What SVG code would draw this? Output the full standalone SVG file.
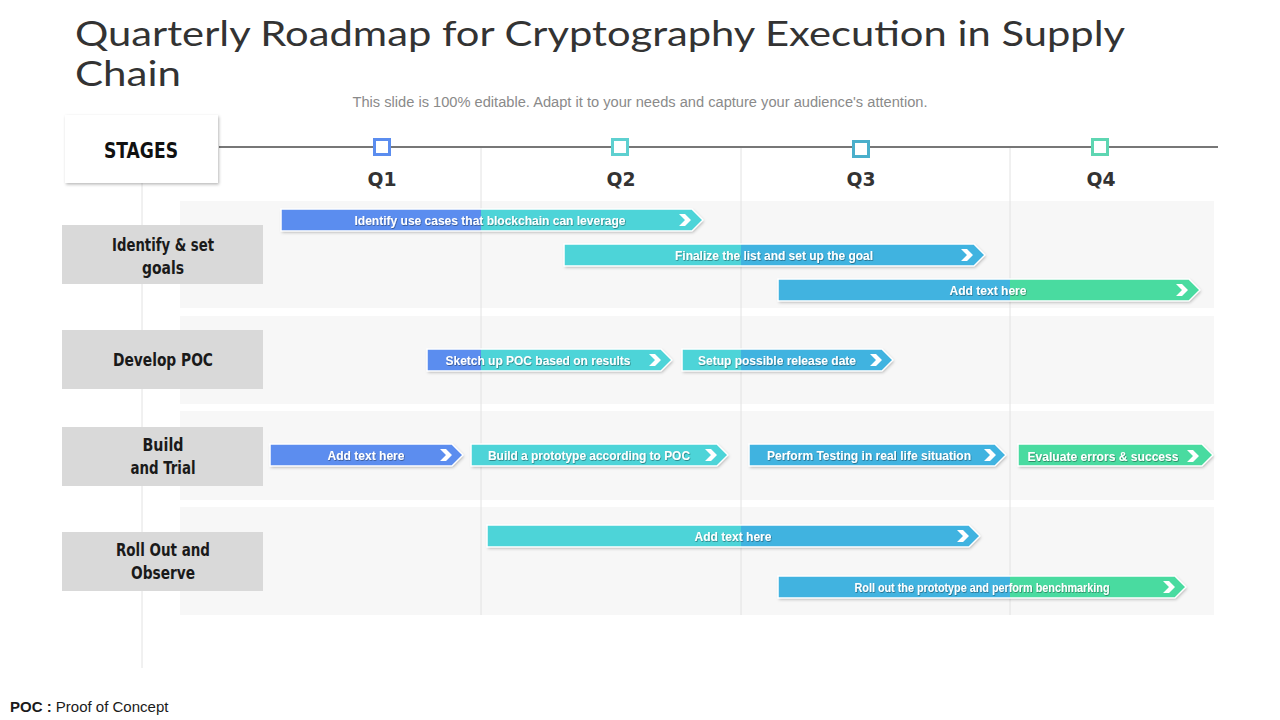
<svg xmlns="http://www.w3.org/2000/svg" width="1280" height="720" viewBox="0 0 1280 720">
<defs>
<style>
.title{font-family:Lato,"Open Sans","Liberation Sans",sans-serif;font-weight:400;font-size:35px;fill:#333333}
.sub{font-family:"Liberation Sans",Arial,sans-serif;font-size:14px;fill:#8a8a8a}
.stage{font-family:"DejaVu Sans Condensed","Liberation Sans",sans-serif;font-weight:bold;font-size:17px;fill:#1a1a1a}
.q{font-family:"DejaVu Sans","Liberation Sans",sans-serif;font-weight:bold;font-size:20px;fill:#333333}
.bt{font-family:"Liberation Sans",Arial,sans-serif;font-weight:bold;font-size:12px;fill:#ffffff}
.grid{stroke:#e2e2e2;stroke-width:1}
.panel{fill:#f7f7f7}
.sbox{fill:#d9d9d9}
.outline{fill:none;stroke:#ffffff;stroke-width:1.5}
.chev{fill:#ffffff}
.foot{font-family:"Liberation Sans",Arial,sans-serif;font-size:15px;fill:#1a1a1a}
</style>
<filter id="sh" x="-10%" y="-40%" width="120%" height="200%">
<feDropShadow dx="1" dy="1.5" stdDeviation="1.5" flood-color="#000" flood-opacity="0.28"/>
</filter>
<filter id="tsh" x="-5%" y="-30%" width="110%" height="160%">
<feDropShadow dx="0.6" dy="0.8" stdDeviation="0.4" flood-color="#000" flood-opacity="0.45"/>
</filter>
</defs>
<rect width="1280" height="720" fill="#ffffff"/>

<text class="title" x="75" y="46" textLength="1050" lengthAdjust="spacingAndGlyphs">Quarterly Roadmap for Cryptography  Execution in Supply</text>
<text class="title" x="75" y="86" textLength="106" lengthAdjust="spacingAndGlyphs">Chain</text>
<text class="sub" x="640" y="107" text-anchor="middle" textLength="575" lengthAdjust="spacingAndGlyphs">This slide is 100% editable. Adapt it to your needs and capture your audience's attention.</text>

<g id="background">
<rect class="panel" x="180" y="201" width="1034" height="107"/>
<rect class="panel" x="180" y="316" width="1034" height="88"/>
<rect class="panel" x="180" y="411" width="1034" height="89"/>
<rect class="panel" x="180" y="507" width="1034" height="108"/>
<line class="grid" x1="142" y1="183" x2="142" y2="668"/>
<line class="grid" x1="481" y1="147" x2="481" y2="615"/>
<line class="grid" x1="741" y1="147" x2="741" y2="615"/>
<line class="grid" x1="1010" y1="147" x2="1010" y2="615"/>
</g>

<g id="timeline">
<line x1="219" y1="147" x2="1218" y2="147" stroke="#777777" stroke-width="2"/>
<rect x="374.5" y="139.5" width="15" height="15" fill="#ffffff" stroke="#5B8DEF" stroke-width="3"/>
<rect x="612.5" y="139.5" width="15" height="15" fill="#ffffff" stroke="#5ED0D0" stroke-width="3"/>
<rect x="853.5" y="141.5" width="15" height="15" fill="#ffffff" stroke="#4AAFCB" stroke-width="3"/>
<rect x="1092.5" y="139.5" width="15" height="15" fill="#ffffff" stroke="#5ED6B2" stroke-width="3"/>
<text class="q" x="382" y="186" text-anchor="middle" textLength="29" lengthAdjust="spacingAndGlyphs">Q1</text>
<text class="q" x="621" y="186" text-anchor="middle" textLength="29" lengthAdjust="spacingAndGlyphs">Q2</text>
<text class="q" x="861" y="186" text-anchor="middle" textLength="29" lengthAdjust="spacingAndGlyphs">Q3</text>
<text class="q" x="1101" y="186" text-anchor="middle" textLength="29" lengthAdjust="spacingAndGlyphs">Q4</text>
</g>

<g id="stages-header">
<rect x="65" y="115" width="153" height="68" fill="#ffffff" filter="url(#sh)"/>
<text x="141" y="158" text-anchor="middle" textLength="74" lengthAdjust="spacingAndGlyphs" style="font-family:'DejaVu Sans Condensed','Liberation Sans',sans-serif;font-weight:bold;font-size:22px;fill:#111">STAGES</text>
</g>

<g id="stage-1">
<rect class="sbox" x="62" y="225" width="201" height="59"/>
<text class="stage" x="163" y="251" text-anchor="middle" textLength="102" lengthAdjust="spacingAndGlyphs">Identify &amp; set</text>
<text class="stage" x="163" y="274" text-anchor="middle" textLength="42" lengthAdjust="spacingAndGlyphs">goals</text>
</g>
<g id="stage-2">
<rect class="sbox" x="62" y="330" width="201" height="59"/>
<text class="stage" x="163" y="366" text-anchor="middle" textLength="100" lengthAdjust="spacingAndGlyphs">Develop POC</text>
</g>
<g id="stage-3">
<rect class="sbox" x="62" y="427" width="201" height="59"/>
<text class="stage" x="163" y="451" text-anchor="middle" textLength="41" lengthAdjust="spacingAndGlyphs">Build</text>
<text class="stage" x="163" y="474" text-anchor="middle" textLength="65" lengthAdjust="spacingAndGlyphs">and Trial</text>
</g>
<g id="stage-4">
<rect class="sbox" x="62" y="532" width="201" height="59"/>
<text class="stage" x="163" y="556" text-anchor="middle" textLength="94" lengthAdjust="spacingAndGlyphs">Roll Out and</text>
<text class="stage" x="163" y="579" text-anchor="middle" textLength="64" lengthAdjust="spacingAndGlyphs">Observe</text>
</g>

<g id="bar-1">
<polygon points="281,209 692,209 703,220 692,231 281,231" fill="#4DD4D8" filter="url(#sh)"/>
<rect x="281" y="209" width="200" height="22" fill="#5B8DEF"/>
<polygon class="outline" points="281,209 692,209 703,220 692,231 281,231"/>
<polygon class="chev" points="679,214 685,214 691,220 685,226 679,226 685,220"/>
<text class="bt" x="490" y="224.5" text-anchor="middle" textLength="271" lengthAdjust="spacingAndGlyphs" filter="url(#tsh)">Identify  use cases that blockchain can leverage</text>
</g>
<g id="bar-2">
<polygon points="564,244 974,244 985,255 974,266 564,266" fill="#41B3E0" filter="url(#sh)"/>
<rect x="564" y="244" width="177" height="22" fill="#4DD4D8"/>
<polygon class="outline" points="564,244 974,244 985,255 974,266 564,266"/>
<polygon class="chev" points="961,249 967,249 973,255 967,261 961,261 967,255"/>
<text class="bt" x="774" y="259.5" text-anchor="middle" textLength="198" lengthAdjust="spacingAndGlyphs" filter="url(#tsh)">Finalize  the list and set up the goal</text>
</g>
<g id="bar-3">
<polygon points="778,279 1189,279 1200,290 1189,301 778,301" fill="#48DBA0" filter="url(#sh)"/>
<rect x="778" y="279" width="232" height="22" fill="#41B3E0"/>
<polygon class="outline" points="778,279 1189,279 1200,290 1189,301 778,301"/>
<polygon class="chev" points="1176,284 1182,284 1188,290 1182,296 1176,296 1182,290"/>
<text class="bt" x="988" y="294.5" text-anchor="middle" textLength="77" lengthAdjust="spacingAndGlyphs" filter="url(#tsh)">Add  text here</text>
</g>
<g id="bar-4">
<polygon points="427,349 661,349 672,360 661,371 427,371" fill="#4DD4D8" filter="url(#sh)"/>
<rect x="427" y="349" width="54" height="22" fill="#5B8DEF"/>
<polygon class="outline" points="427,349 661,349 672,360 661,371 427,371"/>
<polygon class="chev" points="649,354 655,354 661,360 655,366 649,366 655,360"/>
<text class="bt" x="538" y="364.5" text-anchor="middle" textLength="185" lengthAdjust="spacingAndGlyphs" filter="url(#tsh)">Sketch up POC based on results</text>
</g>
<g id="bar-5">
<polygon points="682,349 882,349 893,360 882,371 682,371" fill="#41B3E0" filter="url(#sh)"/>
<rect x="682" y="349" width="59" height="22" fill="#4DD4D8"/>
<polygon class="outline" points="682,349 882,349 893,360 882,371 682,371"/>
<polygon class="chev" points="870,354 876,354 882,360 876,366 870,366 876,360"/>
<text class="bt" x="777" y="364.5" text-anchor="middle" textLength="158" lengthAdjust="spacingAndGlyphs" filter="url(#tsh)">Setup possible release date</text>
</g>
<g id="bar-6">
<polygon points="270,444 452,444 463,455 452,466 270,466" fill="#5B8DEF" filter="url(#sh)"/>
<polygon class="outline" points="270,444 452,444 463,455 452,466 270,466"/>
<polygon class="chev" points="440,449 446,449 452,455 446,461 440,461 446,455"/>
<text class="bt" x="366" y="459.5" text-anchor="middle" textLength="77" lengthAdjust="spacingAndGlyphs" filter="url(#tsh)">Add  text here</text>
</g>
<g id="bar-7">
<polygon points="471,444 717,444 728,455 717,466 471,466" fill="#4DD4D8" filter="url(#sh)"/>
<polygon class="outline" points="471,444 717,444 728,455 717,466 471,466"/>
<polygon class="chev" points="705,449 711,449 717,455 711,461 705,461 711,455"/>
<text class="bt" x="589" y="459.5" text-anchor="middle" textLength="202" lengthAdjust="spacingAndGlyphs" filter="url(#tsh)">Build  a prototype  according to POC</text>
</g>
<g id="bar-8">
<polygon points="749,444 995,444 1006,455 995,466 749,466" fill="#41B3E0" filter="url(#sh)"/>
<polygon class="outline" points="749,444 995,444 1006,455 995,466 749,466"/>
<polygon class="chev" points="984,449 990,449 996,455 990,461 984,461 990,455"/>
<text class="bt" x="869" y="459.5" text-anchor="middle" textLength="204" lengthAdjust="spacingAndGlyphs" filter="url(#tsh)">Perform Testing in  real life  situation</text>
</g>
<g id="bar-9">
<polygon points="1018,444 1202,444 1213,455 1202,466 1018,466" fill="#48DBA0" filter="url(#sh)"/>
<polygon class="outline" points="1018,444 1202,444 1213,455 1202,466 1018,466"/>
<polygon class="chev" points="1187,450 1193,450 1199,456 1193,462 1187,462 1193,456"/>
<text class="bt" x="1103" y="460.5" text-anchor="middle" textLength="151" lengthAdjust="spacingAndGlyphs" filter="url(#tsh)">Evaluate  errors &amp; success</text>
</g>
<g id="bar-10">
<polygon points="487,525 969,525 980,536 969,547 487,547" fill="#41B3E0" filter="url(#sh)"/>
<rect x="487" y="525" width="254" height="22" fill="#4DD4D8"/>
<polygon class="outline" points="487,525 969,525 980,536 969,547 487,547"/>
<polygon class="chev" points="957,530 963,530 969,536 963,542 957,542 963,536"/>
<text class="bt" x="733" y="540.5" text-anchor="middle" textLength="77" lengthAdjust="spacingAndGlyphs" filter="url(#tsh)">Add  text here</text>
</g>
<g id="bar-11">
<polygon points="778,576 1175,576 1186,587 1175,598 778,598" fill="#48DBA0" filter="url(#sh)"/>
<rect x="778" y="576" width="232" height="22" fill="#41B3E0"/>
<polygon class="outline" points="778,576 1175,576 1186,587 1175,598 778,598"/>
<polygon class="chev" points="1163,581 1169,581 1175,587 1169,593 1163,593 1169,587"/>
<text class="bt" x="982" y="591.5" text-anchor="middle" textLength="255" lengthAdjust="spacingAndGlyphs" filter="url(#tsh)">Roll out the prototype and perform benchmarking</text>
</g>

<g id="connectors"></g>

<text class="foot" x="10" y="712"><tspan font-weight="bold">POC : </tspan>Proof of Concept</text>
</svg>
